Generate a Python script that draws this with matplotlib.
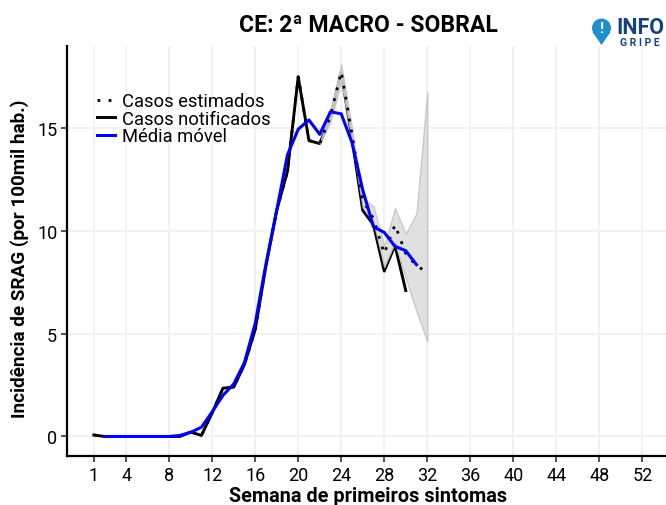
import numpy as np
import matplotlib
matplotlib.use('Agg')
import matplotlib.pyplot as plt
from matplotlib.patches import Circle, Polygon

plt.rcParams['font.family'] = ['Roboto', 'DejaVu Sans']

# semanas e valores
sem_notif = list(range(1, 31))
notificados = [0.07, 0, 0, 0, 0, 0, 0, 0, 0, 0.22, 0.05, 1.15, 2.35, 2.4, 3.5,
               5.2, 8.3, 11.0, 12.9, 17.5, 14.4, 14.25, 15.5, 17.7, 14.5,
               11.0, 10.3, 8.05, 9.3, 7.1]

sem_media = list(range(2, 32))
media = [0, 0, 0, 0, 0, 0, 0, 0.05, 0.2, 0.45, 1.2, 2.0, 2.55, 3.6, 5.5, 8.4,
         11.0, 13.7, 14.95, 15.4, 14.7, 15.8, 15.7, 14.3, 12.0, 10.2, 9.93,
         9.25, 9.04, 8.36]

sem_est = list(range(1, 33))
estimados = [0.07, 0, 0, 0, 0, 0, 0, 0, 0, 0.22, 0.05, 1.15, 2.35, 2.4, 3.5,
             5.2, 8.3, 11.0, 12.9, 17.5, 14.4, 14.25, 15.6, 17.75, 14.7,
             11.5, 10.6, 8.9, 10.3, 8.9, 8.3, 8.0]

sem_ic = list(range(22, 33))
ic_sup = [14.25, 15.9, 18.1, 15.0, 11.6, 11.2, 9.25, 11.1, 9.86, 10.85, 16.75]
ic_inf = [14.25, 15.3, 17.3, 14.4, 11.15, 10.45, 8.25, 9.45, 7.7, 6.1, 4.63]

xticks = [1, 4, 8, 12, 16, 20, 24, 28, 32, 36, 40, 44, 48, 52]
yticks = [0, 5, 10, 15]

fig = plt.figure(figsize=(6.66, 5.06), dpi=100)
ax = fig.add_axes([67 / 666, 1 - 457 / 506, 599 / 666, 410 / 506])

# a faixa fica por cima da linha preta, como no original
ax.plot(sem_notif, notificados, color='black', lw=2.1, label='Casos notificados', zorder=2)
ax.fill_between(sem_ic, ic_inf, ic_sup, facecolor='#dcdcdc', edgecolor='#c4c4c4', lw=1,
                alpha=0.88, zorder=3)
ax.plot(sem_est, estimados, color='black', lw=2.0, ls=(0, (1, 3)), label='Casos estimados', zorder=4)
ax.plot(sem_media, media, color='#0000ff', lw=2.2, label='Média móvel', zorder=5)

ax.set_xlim(-1.5, 54.2)
ax.set_ylim(-0.95, 19)
ax.set_xticks(xticks)
ax.set_yticks(yticks)
ax.grid(True, color='#f2f2f2', lw=1.5)
ax.set_axisbelow(True)
ax.spines['top'].set_visible(False)
ax.spines['right'].set_visible(False)
ax.spines['left'].set_linewidth(1.6)
ax.spines['bottom'].set_linewidth(1.6)
ax.tick_params(labelsize=13, length=4, width=1.2, color='#333333', pad=3)

fig.text(368 / 666, 1 - 497 / 506, 'Semana de primeiros sintomas', fontsize=14.3, fontweight='bold',
         ha='center', va='center')
fig.text(20 / 666, 1 - 259 / 506, 'Incidência de SRAG (por 100mil hab.)', fontsize=13.6, fontweight='bold',
         rotation=90, ha='center', va='center')
fig.text(368 / 666, 1 - 25 / 506, 'CE: 2ª MACRO - SOBRAL', fontsize=16.6, fontweight='bold',
         ha='center', va='center')

h, l = ax.get_legend_handles_labels()
ax.legend([h[1], h[0], h[2]], [l[1], l[0], l[2]], loc='upper left',
          bbox_to_anchor=(30 / 599, 1 - 46 / 410), frameon=False, fontsize=13.2,
          labelspacing=-0.02, handlelength=1.0, handletextpad=0.38, borderpad=0, borderaxespad=0)

# logo InfoGripe
logo = fig.add_axes([0, 0, 1, 1], facecolor='none')
logo.set_xlim(0, 666)
logo.set_ylim(506, 0)
logo.axis('off')
logo.add_patch(Polygon([[592.5, 33], [601.5, 46], [610.5, 33]], color='#1f8fd0', lw=0))
logo.add_patch(Circle((601.5, 29), 9.5, color='#1f8fd0', lw=0))
logo.text(601.5, 29, '!', color='white', fontsize=11, fontweight='bold', ha='center', va='center')
logo.text(640, 28, 'INFO', color='#12427f', fontsize=15.5, fontweight='bold', ha='center', va='center')
logo.text(640, 42.5, 'G R I P E', color='#12427f', fontsize=7.5, fontweight='bold', ha='center', va='center')

fig.savefig('out.png', dpi=100)
